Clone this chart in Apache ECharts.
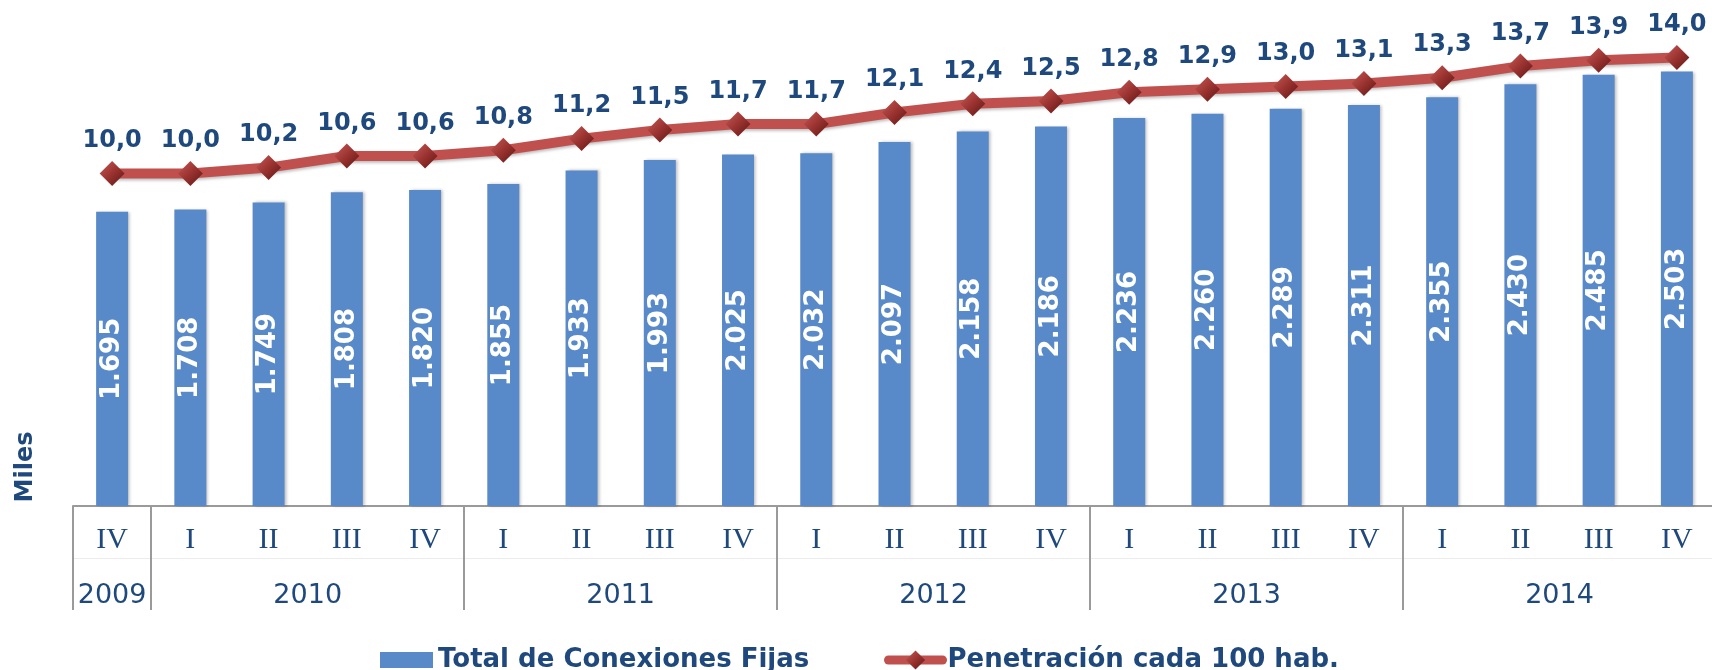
<!DOCTYPE html>
<html>
<head>
<meta charset="utf-8">
<script src="https://cdn.jsdelivr.net/npm/echarts@6/dist/echarts.min.js"></script>
<style>
html,body{margin:0;padding:0;background:#fff;}
#chart{width:1712px;height:670px;}
</style>
</head>
<body>
<div id="chart"></div>
<script>
// ---- data ----
const quarters = ['IV','I','II','III','IV','I','II','III','IV','I','II','III','IV','I','II','III','IV','I','II','III','IV'];
const quarterYears = [2009,2010,2010,2010,2010,2011,2011,2011,2011,2012,2012,2012,2012,2013,2013,2013,2013,2014,2014,2014,2014];
const years = ['2009','2010','2011','2012','2013','2014'];
const conexiones = [1695,1708,1749,1808,1820,1855,1933,1993,2025,2032,2097,2158,2186,2236,2260,2289,2311,2355,2430,2485,2503];
const penetracion = [10.0,10.0,10.2,10.6,10.6,10.8,11.2,11.5,11.7,11.7,12.1,12.4,12.5,12.8,12.9,13.0,13.1,13.3,13.7,13.9,14.0];
const seriesNames = ['Total de Conexiones Fijas','Penetración cada 100 hab.'];
const yAxisName = 'Miles';

// ---- derived: year group centers (in category units) and group starts ----
const yearCenters = {};
const groupStart = {};
years.forEach(y => {
  const idx = quarterYears.map((v,i)=>String(v)===y?i:-1).filter(i=>i>=0);
  const first = idx[0], last = idx[idx.length-1];
  yearCenters[(first + last + 1) / 2] = y;
  groupStart[first] = true;
});

const BLUE = '#1F497D';
const chart = echarts.init(document.getElementById('chart'));
chart.setOption({
  animation: false,
  backgroundColor: '#ffffff',
  grid: { left: 73, width: 1643, top: 20, bottom: 164, containLabel: false, outerBoundsMode: 'none' },
  legend: [
    {
      data: [{ name: seriesNames[0], icon: 'rect' }], left: 380, top: 647, padding: 0,
      itemWidth: 53, itemHeight: 16, itemGap: 0,
      textStyle: { color: BLUE, fontWeight: 'bold', fontSize: 26, fontFamily: 'DejaVu Sans' },
      selectedMode: false
    },
    {
      data: [seriesNames[1]], left: 884, top: 647, padding: 0,
      itemWidth: 54, itemHeight: 24, itemGap: 0,
      lineStyle: { width: 9, color: '#C0504D', cap: 'round' },
      textStyle: { color: BLUE, fontWeight: 'bold', fontSize: 26, fontFamily: 'DejaVu Sans' },
      selectedMode: false
    }
  ],
  graphic: [{
    type: 'text', x: 26, y: 467, rotation: Math.PI / 2,
    style: { text: yAxisName, fill: BLUE, font: 'bold 24px "DejaVu Sans"', textAlign: 'center', textVerticalAlign: 'middle' }
  }],
  xAxis: [
    {
      type: 'category', data: quarters, position: 'bottom', boundaryGap: true,
      axisLine: { show: true, onZero: false, lineStyle: { color: '#9a9a9a', width: 2 } },
      axisTick: { show: true, length: 104, interval: (i) => !!groupStart[i], lineStyle: { color: '#9a9a9a', width: 2 } },
      axisLabel: { interval: 0, margin: 19, color: BLUE, fontSize: 30, fontFamily: 'Liberation Serif' }
    },
    {
      type: 'value', min: 0, max: quarters.length, interval: 0.5, position: 'bottom', offset: 52,
      axisLine: { show: true, onZero: false, lineStyle: { color: '#ececec', width: 1 } },
      axisTick: { show: false }, splitLine: { show: false },
      axisLabel: {
        margin: 24, color: BLUE, fontSize: 27, fontFamily: 'DejaVu Sans',
        showMinLabel: true, showMaxLabel: true,
        formatter: (v) => yearCenters[v] || ''
      }
    }
  ],
  yAxis: [
    { type: 'value', min: 0, max: 2800, show: false, splitLine: { show: false } },
    { type: 'value', min: -1.47, max: 15.29, show: false, splitLine: { show: false } }
  ],
  series: [
    {
      name: seriesNames[0], type: 'bar', data: conexiones, barWidth: 32, xAxisIndex: 0, yAxisIndex: 0,
      itemStyle: { color: '#5889C9', shadowColor: 'rgba(0,0,0,0.25)', shadowBlur: 3, shadowOffsetX: 2 },
      label: {
        show: true, position: 'inside', rotate: 90, color: '#ffffff', fontWeight: 'bold', fontSize: 26, fontFamily: 'DejaVu Sans',
        formatter: (p) => p.value.toLocaleString('de-DE')
      },
      z: 2
    },
    {
      name: seriesNames[1], type: 'line', data: penetracion, xAxisIndex: 0, yAxisIndex: 1,
      symbol: 'diamond', symbolSize: 25,
      lineStyle: { color: '#C0504D', width: 10, shadowColor: 'rgba(0,0,0,0.25)', shadowBlur: 3, shadowOffsetY: 2 },
      itemStyle: {
        color: new echarts.graphic.LinearGradient(0, 0, 1, 1, [
          { offset: 0, color: '#C85A56' }, { offset: 0.5, color: '#9A3330' }, { offset: 1, color: '#5E1514' }
        ]),
        borderWidth: 0
      },
      label: {
        show: true, position: 'top', distance: 8, color: BLUE, fontWeight: 'bold', fontSize: 24, fontFamily: 'DejaVu Sans',
        formatter: (p) => p.value.toFixed(1).replace('.', ',')
      },
      z: 3
    }
  ]
});
</script>
</body>
</html>
